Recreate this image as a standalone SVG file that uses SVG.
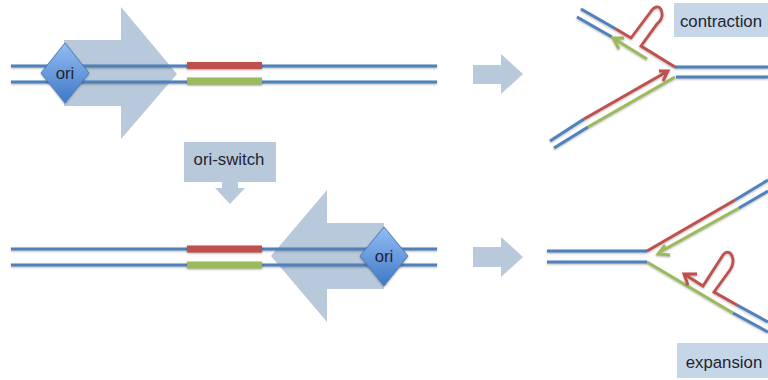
<svg xmlns="http://www.w3.org/2000/svg" width="768" height="380" viewBox="0 0 768 380">
  <style>
    text { font-family: "Liberation Sans", Arial, sans-serif; font-size: 16.8px; fill: #1f2530; text-anchor: middle; }
    .block { fill: #b9c9dc; }
    .label { fill: #c6d6e9; }
    .strand { fill: none; stroke-width: 2.8; stroke-linecap: butt; stroke-linejoin: miter; filter: url(#shade); }
    .blue { stroke: #4f81bd; }
    .red { stroke: #c0504d; }
    .green { stroke: #9bbb59; }
    .bar { stroke-width: 7; fill: none; filter: url(#shade); }
    .diamond { fill: url(#oriFill); stroke: #4a7ebb; stroke-width: 1; filter: url(#shade); }
  </style>
  <defs>
    <linearGradient id="oriFill" x1="0" y1="0" x2="0" y2="1">
      <stop offset="0" stop-color="#93bdf5"/>
      <stop offset="1" stop-color="#3f78c6"/>
    </linearGradient>
    <filter id="shade" x="0" y="0" width="768" height="380" filterUnits="userSpaceOnUse" color-interpolation-filters="sRGB">
      <feGaussianBlur in="SourceAlpha" stdDeviation="0.9"/>
      <feOffset dy="1.2"/>
      <feComponentTransfer><feFuncA type="linear" slope="0.3"/></feComponentTransfer>
      <feMerge><feMergeNode/><feMergeNode in="SourceGraphic"/></feMerge>
    </filter>
  </defs>

  <g id="direction-arrows">
    <polygon class="block" points="64,40 121,40 121,7 177,74 121,139 121,106 64,106"/>
    <polygon class="block" points="384,223 327,223 327,190 271,256 327,322 327,289 384,289"/>
    <polygon class="block" points="473,65 501,65 501,54 523,74 501,94 501,84 473,84"/>
    <polygon class="block" points="473,247 501,247 501,237 523,257 501,277 501,267 473,267"/>
  </g>

  <g id="connectors">
    <!-- linear duplexes -->
    <path class="strand blue" d="M11 66H437M11 82H437"/>
    <path class="strand blue" d="M11 249H437M11 265H437"/>
    <path class="bar red" d="M187 65.500H262"/>
    <path class="bar green" d="M187 81H262"/>
    <path class="bar red" d="M187 249H262"/>
    <path class="bar green" d="M187 265H262"/>

    <!-- upper replication fork -->
    <path class="strand blue" d="M581 9L616 29M577 17L612 37M675 67H768M676 77H768M584 119L550 141M588 127L554 148"/>
    <path class="strand red" d="M616 29L631 38L652 10C656 5 661 6 662 13C663 18 660 21 657 24L641 46L675 67"/>
    <path class="strand red" d="M584 119L668 71M659 71L668 71L663 81"/>
    <path class="strand green" d="M588 127L675 77"/>
    <path class="strand green" d="M647 59L613 38M624 38L613 38L619 49"/>

    <!-- lower replication fork -->
    <path class="strand blue" d="M547 251H647M547 262H647M735 200L768 180M739 208L768 191M733 313L768 332M737 305L768 322"/>
    <path class="strand red" d="M647 251L735 200"/>
    <path class="strand green" d="M739 208L658 253M665 245L658 254L670 255"/>
    <path class="strand green" d="M647 262L733 313"/>
    <path class="strand red" d="M737 305L714 292L730 270C733 266 734 260 732 256C730 251 726 251 723 255L703 286L684 274M697 274L684 274L688 285"/>
  </g>

  <g id="ori-left">
    <polygon class="diamond" points="65,43 89,73 65,103 41,73"/>
    <text x="65" y="79">ori</text>
  </g>
  <g id="ori-right">
    <polygon class="diamond" points="384,227 408,256 384,286 360,256"/>
    <text x="384" y="262">ori</text>
  </g>
  <g id="ori-switch">
    <polygon class="block" points="184,142 276,142 276,182 238,182 238,188 245,188 230,204 215,188 222,188 222,182 184,182"/>
    <text x="229" y="165">ori-switch</text>
  </g>
  <g id="contraction">
    <rect class="label" x="674" y="3" width="94" height="34"/>
    <text x="721" y="27">contraction</text>
  </g>
  <g id="expansion">
    <rect class="label" x="677" y="343" width="91" height="35"/>
    <text x="724" y="368">expansion</text>
  </g>
</svg>
